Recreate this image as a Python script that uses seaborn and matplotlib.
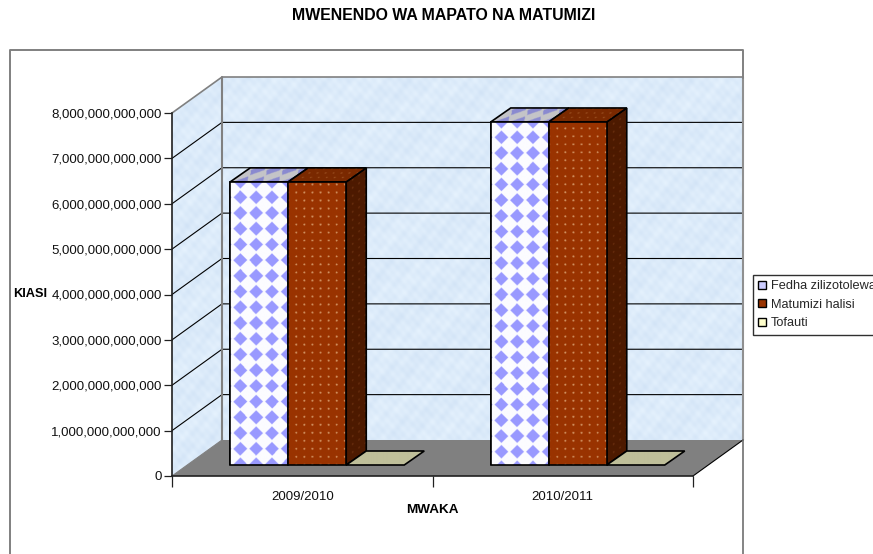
import numpy as np
import pandas as pd
import matplotlib
matplotlib.use('Agg')
import matplotlib.pyplot as plt
import seaborn as sns
from matplotlib.lines import Line2D
from matplotlib.patches import Polygon
from matplotlib.ticker import StrMethodFormatter

# Values
miaka = ['2009/2010', '2010/2011']
fedha_zilizotolewa = [6.24e12, 7.56e12]
matumizi_halisi = [6.24e12, 7.56e12]
tofauti = [0, 0]
alama_y = [0, 1e12, 2e12, 3e12, 4e12, 5e12, 6e12, 7e12, 8e12]

W, H = 873, 554
# Front plane of the 3D box, in pixels
LEFT, RIGHT, BASE, TOP = 172, 693, 476, 113
PX_X = (RIGHT - LEFT) / 2
PX_Y = (BASE - TOP) / 8e12
# Depth of the walls and shift of the bars, in pixels
WALL_DX, WALL_DY = 50, 36
BAR_SHIFT_X, BAR_SHIFT_Y = 15, 11
BAR_DX, BAR_DY = 20, 14

# Faces are stacked in the order they are drawn
orden_z = [3]


def diamonds(u, v, back, front):
    du = (u - 10 + 8) % 15.7 - 8
    dv = (v - 16 + 8) % 15.7 - 8
    mask = np.abs(du) + np.abs(dv) < 6.9
    return np.where(mask[..., None], front, back)


def dots(u, v, back, front):
    du = (u - 4) % 8 - 4
    dv = (v - 4) % 8 - 4
    mask = du ** 2 + dv ** 2 < 1.0
    return np.where(mask[..., None], front, back)


def plain(u, v, back, front):
    return np.ones(u.shape + (3,)) * back


def rgb(name):
    return np.array(matplotlib.colors.to_rgb(name))


def face(ax, x0, y0, e1, e2, pattern, back, front, lw=1.2, v_scale=1.0):
    """Parallelogram from data point (x0, y0), sides e1 and e2 in pixels (y up)."""
    corners = np.array([[0, 0], e1, np.add(e1, e2), e2], dtype=float)
    xl, xr = corners[:, 0].min(), corners[:, 0].max()
    yb, yt = corners[:, 1].min(), corners[:, 1].max()
    n_x = max(int((xr - xl) * 2), 2)
    n_y = max(int((yt - yb) * 2), 2)
    gx, gy = np.meshgrid(np.linspace(xl, xr, n_x), np.linspace(yt, yb, n_y))
    inv = np.linalg.inv(np.array([e1, e2], dtype=float).T)
    a = inv[0, 0] * gx + inv[0, 1] * gy
    b = inv[1, 0] * gx + inv[1, 1] * gy
    u = a * np.hypot(*e1)
    v = b * np.hypot(*e2) * v_scale
    img = pattern(u, v, rgb(back), rgb(front))
    extent = (x0 + xl / PX_X, x0 + xr / PX_X, y0 + yb / PX_Y, y0 + yt / PX_Y)
    orden_z[0] += 1
    im = ax.imshow(img, extent=extent, aspect='auto', origin='upper',
                   interpolation='bilinear', zorder=orden_z[0])
    pts = np.column_stack([x0 + corners[:, 0] / PX_X, y0 + corners[:, 1] / PX_Y])
    orden_z[0] += 1
    poly = Polygon(pts, closed=True, facecolor='none', edgecolor='black',
                   linewidth=lw, zorder=orden_z[0], clip_on=False)
    ax.add_patch(poly)
    im.set_clip_path(poly)
    im.set_clip_box(ax.figure.bbox)


def main():
    sns.set_theme(style='white')
    plt.rcParams['font.family'] = ['Liberation Sans', 'DejaVu Sans']
    fs = 9.5

    df = pd.DataFrame({
        'mwaka': miaka * 3,
        'kiasi': fedha_zilizotolewa + matumizi_halisi + tofauti,
        'aina': ['Fedha zilizotolewa'] * 2 + ['Matumizi halisi'] * 2 + ['Tofauti'] * 2,
    })
    palette = {'Fedha zilizotolewa': '#ccccff', 'Matumizi halisi': '#993300',
               'Tofauti': '#ffffcc'}

    fig = plt.figure(figsize=(W / 100, H / 100), dpi=100)
    fig.patch.set_facecolor('white')
    pos = [LEFT / W, (H - BASE) / H, (RIGHT - LEFT) / W, (BASE - TOP) / H]
    ax = fig.add_axes(pos, zorder=1)
    ax_bars = fig.add_axes([pos[0] + BAR_SHIFT_X / W, pos[1] + BAR_SHIFT_Y / H,
                            pos[2], pos[3]], zorder=2)
    ax.patch.set_alpha(0)
    ax_bars.patch.set_alpha(0)

    x_lo, x_hi = -0.5, 1.5
    y_lo, y_hi = 0, 8e12
    wx = WALL_DX / PX_X
    wy = WALL_DY / PX_Y

    # Mottled blue wall texture, from overlaid waves
    gx, gy = np.meshgrid(np.arange(0, 575, 1.0), np.arange(0, 400, 1.0))
    tex = (np.sin(gx * 0.31 + gy * 0.17) + np.sin(gx * 0.13 - gy * 0.37 + 1.1)
           + np.sin(gx * 0.53 + gy * 0.47 + 2.3) + np.sin(gx * 0.07 + gy * 0.11)
           + np.sin(gx * 0.71 - gy * 0.59 + 0.4)) / 5
    wall = rgb('#dcebfa')[None, None, :] + tex[..., None] * np.array([0.04, 0.03, 0.015])
    wall = np.clip(wall, 0, 1)
    wall_im = ax.imshow(wall, extent=(x_lo, x_hi + wx, y_lo, y_hi + wy),
                        aspect='auto', origin='upper', zorder=0, interpolation='bilinear')
    wall_shape = Polygon([(x_lo, y_lo), (x_lo, y_hi), (x_lo + wx, y_hi + wy),
                          (x_hi + wx, y_hi + wy), (x_hi + wx, y_lo + wy),
                          (x_lo + wx, y_lo + wy)], closed=True, facecolor='none',
                         edgecolor='none', transform=ax.transData, clip_on=False)
    ax.add_patch(wall_shape)
    wall_im.set_clip_path(wall_shape)
    wall_im.set_clip_box(fig.bbox)

    # Gridlines on the two walls
    for val in alama_y[1:]:
        top_line = val == alama_y[-1]
        col = '#808080' if top_line else 'black'
        ax.plot([x_lo, x_lo + wx, x_hi + wx], [val, val + wy, val + wy], color=col,
                lw=1.2 if top_line else 0.8, clip_on=False, zorder=1)
    # Wall edges
    ax.plot([x_lo + wx, x_lo + wx], [y_lo + wy, y_hi + wy], color='#808080', lw=1.5,
            clip_on=False, zorder=1)
    ax.plot([x_hi + wx, x_hi + wx], [y_lo + wy, y_hi + wy], color='#909090', lw=1.5,
            clip_on=False, zorder=1)

    # Floor
    ax.add_patch(Polygon([(x_lo, y_lo), (x_lo + wx, y_lo + wy), (x_hi + wx, y_lo + wy),
                          (x_hi, y_lo)], closed=True, facecolor='#808080',
                         edgecolor='none', clip_on=False, zorder=2))
    ax.plot([x_hi, x_hi + wx], [y_lo, y_lo + wy], color='black', lw=0.8, clip_on=False, zorder=2)
    ax.plot([x_lo, x_lo + wx], [y_lo, y_lo + wy], color='#808080', lw=0.8, clip_on=False, zorder=2)

    sns.barplot(data=df, x='mwaka', y='kiasi', hue='aina', palette=palette,
                width=0.668, gap=0, saturation=1, edgecolor='black', linewidth=1.2,
                ax=ax_bars, order=miaka, legend=True)

    handles, labels = ax_bars.get_legend_handles_labels()
    ax_bars.get_legend().remove()
    # seaborn leaves empty legend rectangles among the patches, keep only real bars
    bars = [b for b in ax_bars.patches if b.get_width() > 0]
    n_per_hue = len(miaka)
    styles = [i // n_per_hue for i in range(len(bars))]

    # The textures go on top of seaborn's bars, left hue first so the next bar covers its side
    for bar, hue in zip(bars, styles):
        x0 = bar.get_x()
        w_px = bar.get_width() * PX_X
        h = bar.get_height()
        h_px = h * PX_Y
        if hue == 0:
            face(ax_bars, x0, h, (w_px, 0), (BAR_DX, BAR_DY), diamonds, '#c4c4c8', '#8a8ad0', v_scale=0.75)
            face(ax_bars, x0, 0, (w_px, 0), (0, h_px), lambda u, v, b, f: diamonds(u, h_px - v, b, f),
                 '#fcfcff', '#9999ff')
        elif hue == 1:
            face(ax_bars, x0 + w_px / PX_X, 0, (BAR_DX, BAR_DY), (0, h_px), dots, '#4d1a00', '#6b3010')
            face(ax_bars, x0, h, (w_px, 0), (BAR_DX, BAR_DY), dots, '#7a2900', '#a35a2a')
            face(ax_bars, x0, 0, (w_px, 0), (0, h_px), dots, '#993300', '#d09060')
        else:
            face(ax_bars, x0, h, (w_px, 0), (BAR_DX, BAR_DY), plain, '#bfbf99', '#bfbf99')

    ax_bars.set_xlim(x_lo, x_hi)
    ax_bars.set_ylim(y_lo, y_hi)
    ax_bars.axis('off')

    # Axes
    ax.set_xlim(x_lo, x_hi)
    ax.set_ylim(y_lo, y_hi)
    for side in ['top', 'right']:
        ax.spines[side].set_visible(False)
    for side in ['left', 'bottom']:
        ax.spines[side].set_color('#202020')
        ax.spines[side].set_linewidth(1.2)
        ax.spines[side].set_zorder(5)
    ax.set_yticks(alama_y)
    ax.yaxis.set_major_formatter(StrMethodFormatter('{x:,.0f}'))
    ax.set_xticks([0, 1])
    ax.set_xticklabels(miaka)
    ax.set_xticks([-0.5, 0.5, 1.5], minor=True)
    ax.tick_params(axis='x', which='major', length=0, labelsize=fs, pad=11, colors='#101010')
    ax.tick_params(axis='x', which='minor', length=8, width=0.9, color='#202020', bottom=True)
    ax.tick_params(axis='y', length=6, width=0.9, labelsize=fs, pad=1.5, color='#202020',
                   labelcolor='#101010', left=True)

    fig.text(432 / W, 1 - 510 / H, 'MWAKA', fontsize=9.7, fontweight='bold',
             ha='center', va='center', color='black')
    fig.text(13 / W, 1 - 294 / H, 'KIASI', fontsize=9.2, fontweight='bold',
             ha='left', va='center', color='black')
    fig.text(444 / W, 1 - 15 / H, 'MWENENDO WA MAPATO NA MATUMIZI', fontsize=11.4,
             fontweight='bold', ha='center', va='center', color='black')

    # Chart frame, open at the bottom as in the cropped original
    fig.add_artist(Line2D(np.array([10, 10, 743, 743]) / W,
                          1 - np.array([554, 50, 50, 78]) / H,
                          color='#808080', lw=1.4))
    fig.add_artist(Line2D(np.array([743, 743]) / W, 1 - np.array([440, 554]) / H,
                          color='#707070', lw=1.2))

    leg = ax_bars.legend(handles, labels, loc='upper left',
                         bbox_to_anchor=(753 / W, 1 - 275 / H),
                         bbox_transform=fig.transFigure, borderaxespad=0,
                         fontsize=9.2, frameon=True, fancybox=False, framealpha=1,
                         edgecolor='#303030', handlelength=0.6, handleheight=0.6,
                         handletextpad=0.4, labelspacing=0.5, borderpad=0.42)
    leg.get_frame().set_linewidth(1.0)
    for h in leg.get_patches():
        h.set_edgecolor('black')
        h.set_linewidth(1.0)
    leg.set_zorder(100)

    fig.savefig('out.png', dpi=100, facecolor='white')


if __name__ == "__main__":
    main()
